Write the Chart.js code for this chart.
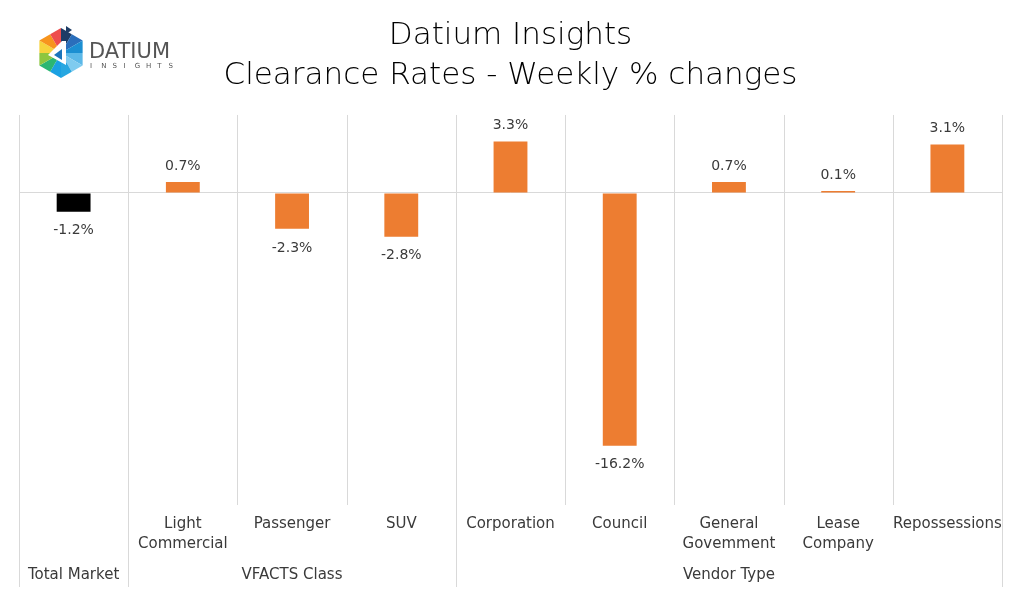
<!DOCTYPE html>
<html>
<head>
<meta charset="utf-8">
<script src="https://cdn.jsdelivr.net/npm/chart.js@4/dist/chart.umd.min.js"></script>
<style>
  html, body { margin: 0; padding: 0; background: #fff; }
  #wrap { width: 1024px; height: 594px; position: relative; }
</style>
</head>
<body>
<div id="wrap"><canvas id="clearanceChart" width="1024" height="594"></canvas></div>
<script>
// chart values
const categories = ['', ['Light', 'Commercial'], 'Passenger', 'SUV', 'Corporation', 'Council', ['General', 'Govemment'], ['Lease', 'Company'], 'Repossessions'];
const weeklyChange = [-1.2, 0.7, -2.3, -2.8, 3.3, -16.2, 0.7, 0.1, 3.1];
const valueLabels = ['-1.2%', '0.7%', '-2.3%', '-2.8%', '3.3%', '-16.2%', '0.7%', '0.1%', '3.1%'];
const barColours = ['#000000', '#ED7D31', '#ED7D31', '#ED7D31', '#ED7D31', '#ED7D31', '#ED7D31', '#ED7D31', '#ED7D31'];
const groupNames = ['Total Market', 'VFACTS Class', 'Vendor Type'];
const groupStart = [0, 1, 4];
const groupEnd = [0, 3, 8];

const FONT = '"DejaVu Sans", sans-serif';
const TEXT = '#3a3a3a';
const GRID = '#d9d9d9';

function drawLogo(ctx) {
    const cx = 61, cy = 53, r = 25;
    const pts = [];
    for (let i = 0; i < 6; i++) {
        const a = Math.PI / 180 * (-90 + 60 * i);
        pts.push([cx + r * Math.cos(a), cy + r * Math.sin(a)]);
    }
    // each sector split into two triangles
    const cols = [
        ['#1d3c66', '#2a6ebb'],
        ['#1b8fd2', '#5bb8e8'],
        ['#7fcbef', '#27a7e1'],
        ['#1ba1e2', '#2bb673'],
        ['#8dc63f', '#f6d33c'],
        ['#f7941d', '#ee4d4d']
    ];
    for (let i = 0; i < 6; i++) {
        const p1 = pts[i], p2 = pts[(i + 1) % 6];
        const m = [(p1[0] + p2[0]) / 2, (p1[1] + p2[1]) / 2];
        ctx.fillStyle = cols[i][0];
        ctx.beginPath(); ctx.moveTo(cx, cy); ctx.lineTo(p1[0], p1[1]); ctx.lineTo(m[0], m[1]); ctx.closePath(); ctx.fill();
        ctx.fillStyle = cols[i][1];
        ctx.beginPath(); ctx.moveTo(cx, cy); ctx.lineTo(m[0], m[1]); ctx.lineTo(p2[0], p2[1]); ctx.closePath(); ctx.fill();
    }
    // white "d" cut
    ctx.fillStyle = '#ffffff';
    ctx.beginPath();
    ctx.moveTo(cx + 1, cy - 12); ctx.lineTo(cx + 5, cy - 12); ctx.lineTo(cx + 5, cy + 12);
    ctx.lineTo(cx - 13, cy + 2); ctx.closePath(); ctx.fill();
    ctx.fillStyle = '#1b75bb';
    ctx.beginPath();
    ctx.moveTo(cx + 1, cy - 4); ctx.lineTo(cx + 1, cy + 7); ctx.lineTo(cx - 7, cy + 2); ctx.closePath(); ctx.fill();
    ctx.fillStyle = '#1d3c66';
    ctx.beginPath();
    ctx.moveTo(cx + 5, cy - 27); ctx.lineTo(cx + 11, cy - 23); ctx.lineTo(cx + 5, cy - 19); ctx.closePath(); ctx.fill();

    ctx.fillStyle = '#555555';
    ctx.textAlign = 'left';
    ctx.textBaseline = 'alphabetic';
    ctx.font = '21px ' + FONT;
    ctx.fillText('DATIUM', 89, 58);
    ctx.font = '7px ' + FONT;
    const letters = 'INSIGHTS';
    for (let i = 0; i < letters.length; i++) {
        ctx.fillText(letters[i], 90 + i * 11.2, 68);
    }
}

const overlayPlugin = {
    id: 'overlay',
    afterDatasetsDraw(chart) {
        const ctx = chart.ctx;
        const area = chart.chartArea;
        const xs = chart.scales.x;
        const step = (area.right - area.left) / categories.length;
        ctx.save();
        // category boundary lines
        ctx.strokeStyle = GRID;
        ctx.lineWidth = 1;
        for (let i = 0; i <= categories.length; i++) {
            const x = Math.round(area.left + i * step) + 0.5;
            const long = groupStart.includes(i) || i === categories.length;
            ctx.beginPath();
            ctx.moveTo(x, area.top);
            ctx.lineTo(x, long ? 587 : area.bottom);
            ctx.stroke();
        }
        // value labels
        ctx.fillStyle = TEXT;
        ctx.font = '14px ' + FONT;
        ctx.textAlign = 'center';
        ctx.textBaseline = 'middle';
        chart.getDatasetMeta(0).data.forEach((bar, i) => {
            const v = weeklyChange[i];
            const y = v >= 0 ? bar.y - 16 : bar.y + 19;
            ctx.fillText(valueLabels[i], bar.x, y);
        });
        // group labels
        ctx.font = '15px ' + FONT;
        groupNames.forEach((g, i) => {
            const x = (xs.getPixelForValue(groupStart[i]) + xs.getPixelForValue(groupEnd[i])) / 2;
            ctx.fillText(g, x, 575);
        });
        drawLogo(ctx);
        ctx.restore();
    }
};

const chart = new Chart(document.getElementById('clearanceChart'), {
    type: 'bar',
    data: {
        labels: categories,
        datasets: [{
            data: weeklyChange,
            backgroundColor: barColours,
            borderWidth: 0,
            categoryPercentage: 1,
            barPercentage: 0.31,
            minBarLength: 2
        }]
    },
    options: {
        responsive: false,
        animation: false,
        layout: { padding: { left: 19, right: 22, top: 0, bottom: 0 } },
        plugins: {
            legend: { display: false },
            tooltip: { enabled: false },
            title: {
                display: true,
                text: ['Datium Insights', 'Clearance Rates - Weekly % changes'],
                color: '#000000',
                font: { family: FONT, size: 31, weight: 200, lineHeight: 1.29 },
                padding: { top: 16, bottom: 19 }
            }
        },
        scales: {
            x: {
                grid: { display: false, drawTicks: false },
                border: { display: false },
                ticks: {
                    color: TEXT,
                    font: { family: FONT, size: 15, lineHeight: 1.33 },
                    padding: 9,
                    maxRotation: 0,
                    autoSkip: false
                },
                afterFit: (scale) => { scale.height = 89; }
            },
            y: {
                min: -20,
                max: 5,
                ticks: { display: false, stepSize: 5 },
                border: { display: false },
                grid: {
                    drawTicks: false,
                    color: (c) => c.tick && c.tick.value === 0 ? GRID : 'rgba(0,0,0,0)'
                },
                afterFit: (scale) => { scale.width = 0; }
            }
        }
    },
    plugins: [overlayPlugin]
});
</script>
</body>
</html>
